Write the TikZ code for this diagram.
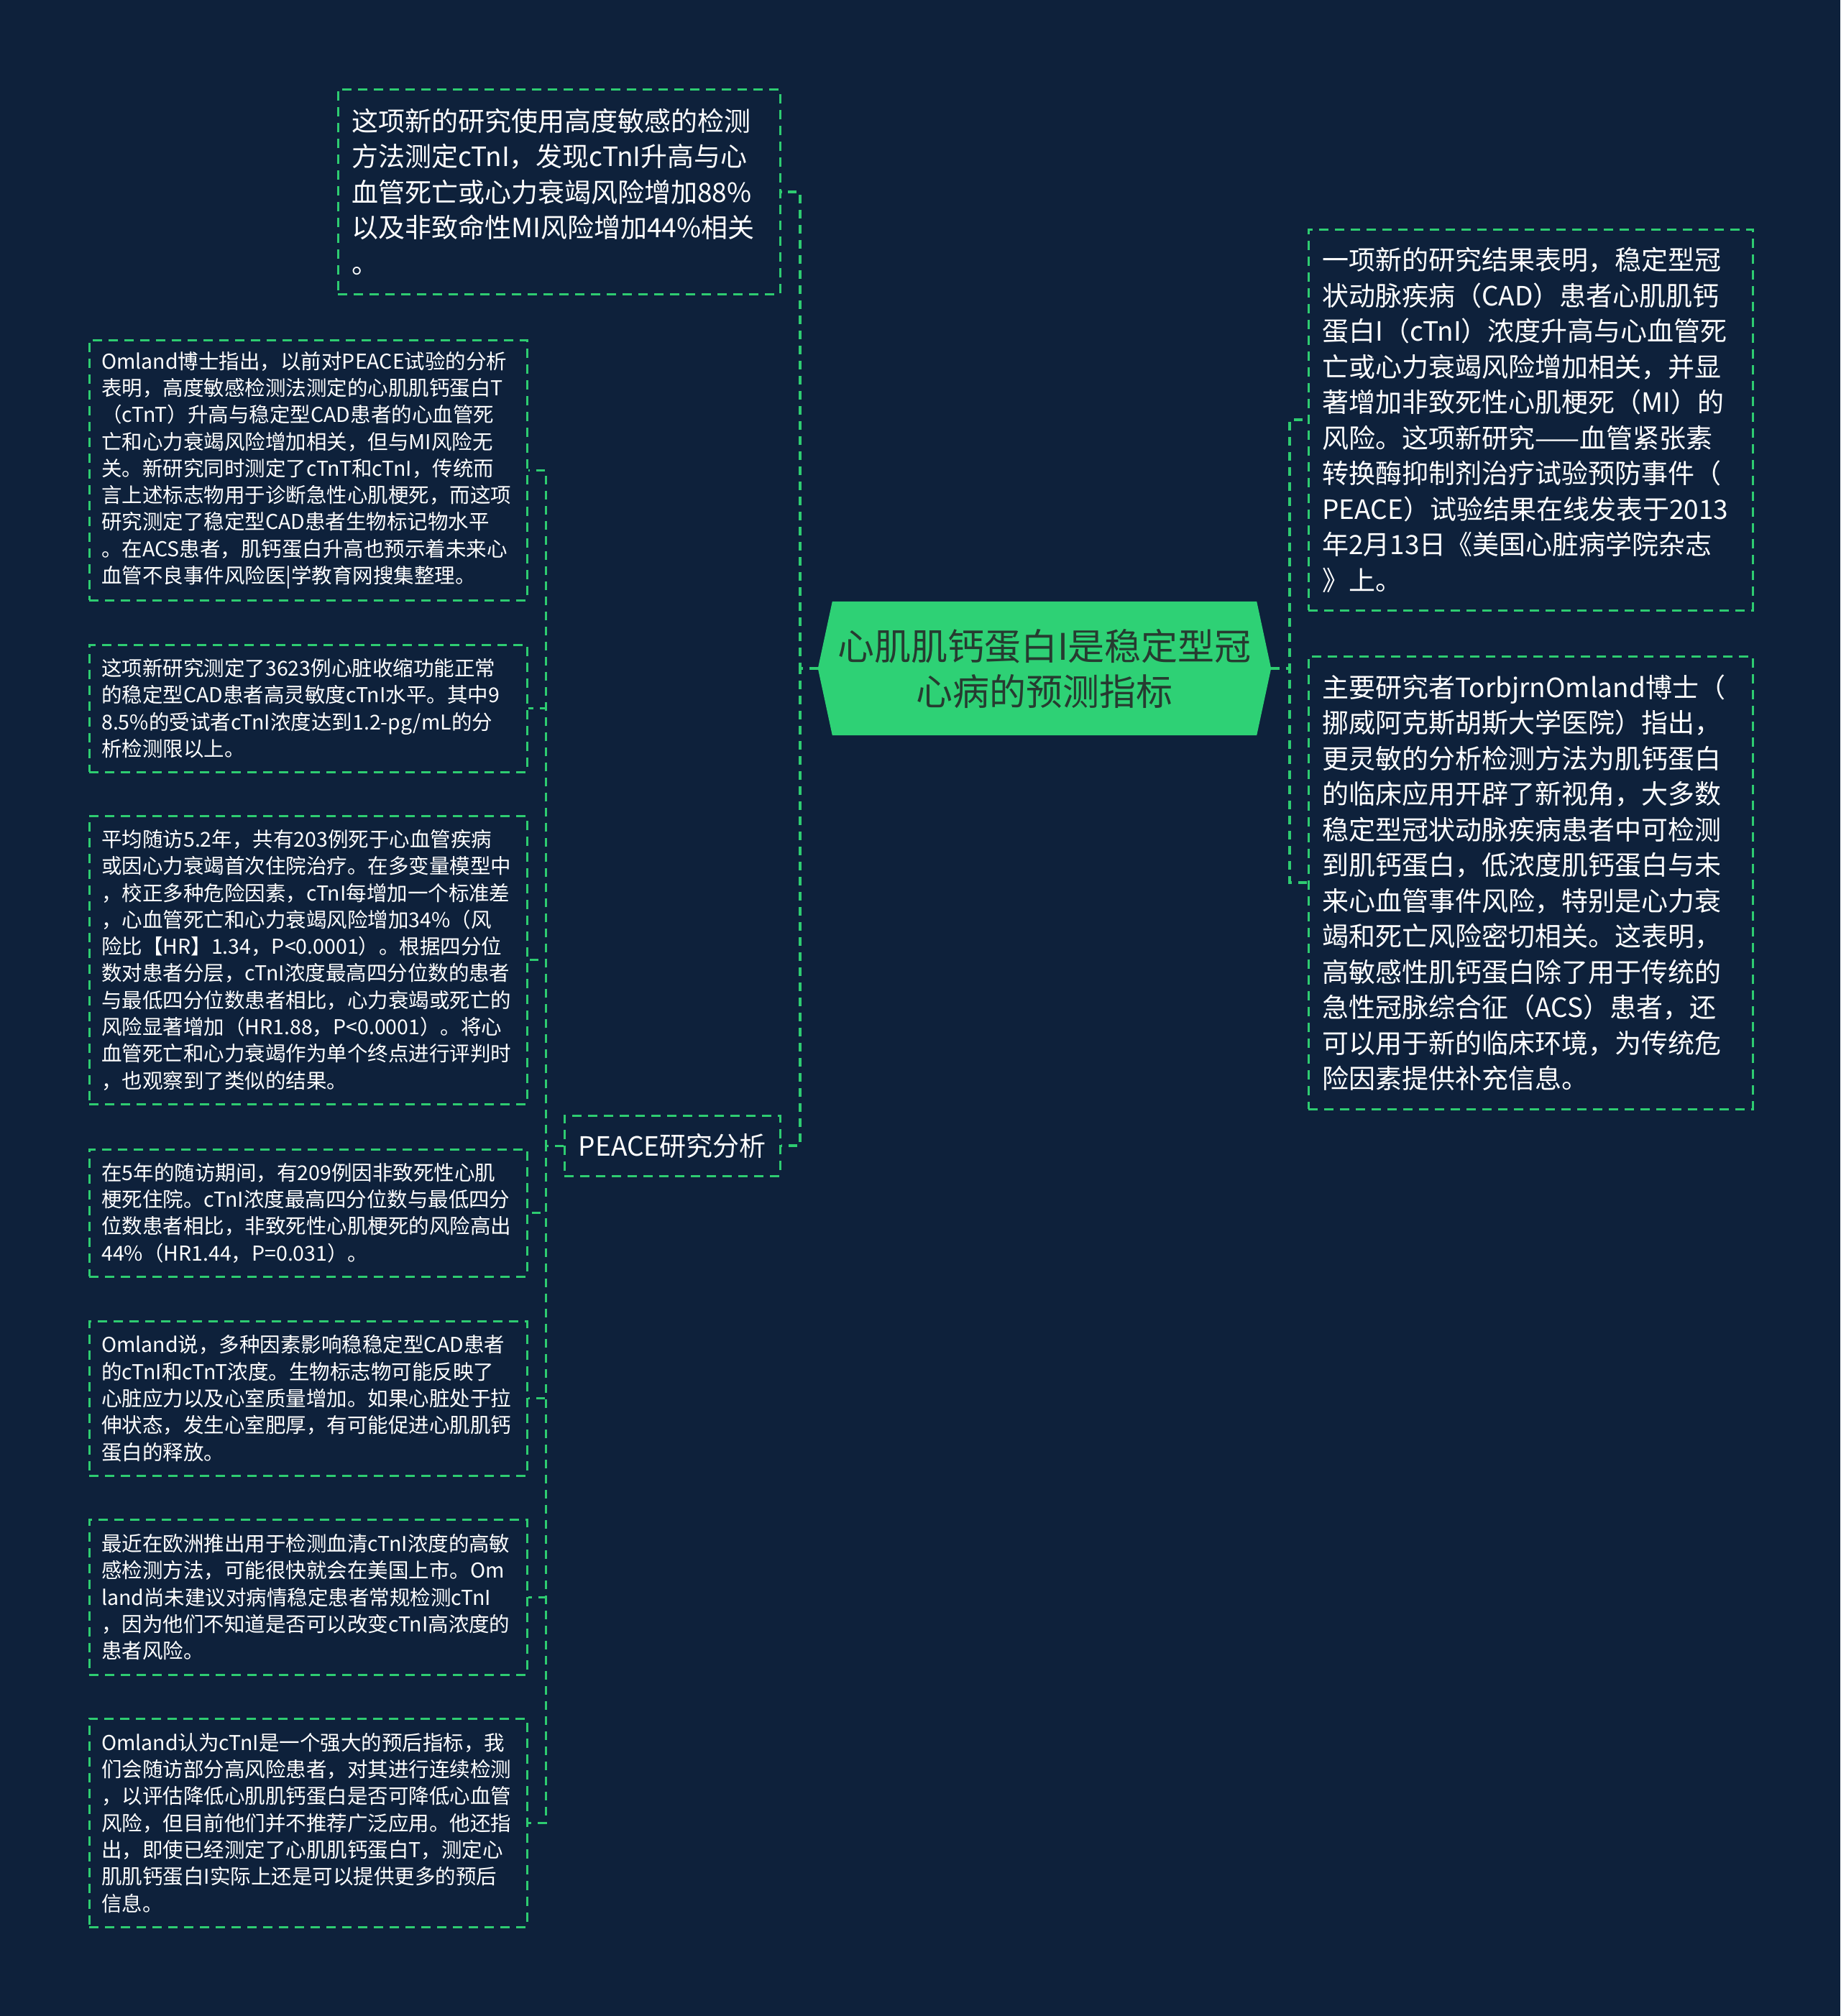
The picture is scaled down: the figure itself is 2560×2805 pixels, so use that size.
\documentclass[tikz,border=0pt]{standalone}
\usepackage{fontspec}
\setmainfont{Noto Sans CJK SC}
\usetikzlibrary{backgrounds}
\definecolor{bgc}{HTML}{0E213B}
\definecolor{lineg}{HTML}{2ECC71}
\definecolor{rootfill}{HTML}{2ED175}
\definecolor{roottext}{HTML}{263B30}
\tikzset{
  leaf/.style={draw=lineg, line width=2.5pt, dash pattern=on 13pt off 9pt,
    text=white, align=left, inner xsep=0pt, inner ysep=0pt, anchor=north west},
  smalltxt/.style={font=\fontsize{28.5}{37.3}\selectfont, text width=575pt, minimum width=609pt},
  bigtxt/.style={font=\fontsize{37}{49.5}\selectfont},
  rootnode/.style={minimum width=630pt, minimum height=186pt, inner sep=0pt,
    align=center, text=roottext, font=\fontsize{51}{63}\selectfont},
  midnode/.style={draw=lineg, line width=2.5pt, dash pattern=on 13pt off 9pt,
    text=white, font=\fontsize{37}{44}\selectfont, minimum width=300pt,
    minimum height=84pt, inner sep=0pt, anchor=north west},
  mainconn/.style={draw=lineg, line width=4pt, dash pattern=on 12pt off 9pt},
  subconn/.style={draw=lineg, line width=3pt, dash pattern=on 12pt off 9pt},
}
\begin{document}
\begin{tikzpicture}[x=1pt, y=-1pt]
\useasboundingbox (0,0) rectangle (2560,2805);
\begin{pgfonlayer}{background}
\fill[bgc] (0,0) rectangle (2560,2805);
\end{pgfonlayer}

% root
\node[rootnode] (root) at (1453,930) {心肌肌钙蛋白I是稳定型冠\\心病的预测指标};
\begin{pgfonlayer}{background}
\fill[rootfill] (root.west) -- ([xshift=20pt]root.north west) -- ([xshift=-20pt]root.north east)
  -- (root.east) -- ([xshift=-20pt]root.south east) -- ([xshift=20pt]root.south west) -- cycle;
\end{pgfonlayer}

% top box
\node[leaf, bigtxt, text width=577pt, minimum width=615pt, minimum height=285pt] (top) at (469,123) {%
这项新的研究使用高度敏感的检测\\
方法测定cTnI，发现cTnI升高与心\\
血管死亡或心力衰竭风险增加88\%\\
以及非致命性MI风险增加44\%相关\\
。};

% right boxes
\node[leaf, bigtxt, text width=580pt, minimum width=618pt, minimum height=530pt] (ra) at (1819,318) {%
一项新的研究结果表明，稳定型冠\\
状动脉疾病（CAD）患者心肌肌钙\\
蛋白I（cTnI）浓度升高与心血管死\\
亡或心力衰竭风险增加相关，并显\\
著增加非致死性心肌梗死（MI）的\\
风险。这项新研究——血管紧张素\\
转换酶抑制剂治疗试验预防事件（\\
PEACE）试验结果在线发表于2013\\
年2月13日《美国心脏病学院杂志\\
》上。};

\node[leaf, bigtxt, text width=580pt, minimum width=618pt, minimum height=630pt] (rb) at (1819,912) {%
主要研究者TorbjrnOmland博士（\\
挪威阿克斯胡斯大学医院）指出，\\
更灵敏的分析检测方法为肌钙蛋白\\
的临床应用开辟了新视角，大多数\\
稳定型冠状动脉疾病患者中可检测\\
到肌钙蛋白，低浓度肌钙蛋白与未\\
来心血管事件风险，特别是心力衰\\
竭和死亡风险密切相关。这表明，\\
高敏感性肌钙蛋白除了用于传统的\\
急性冠脉综合征（ACS）患者，还\\
可以用于新的临床环境，为传统危\\
险因素提供补充信息。};

% PEACE
\node[midnode] (peace) at (784,1551) {PEACE研究分析};

% left boxes
\node[leaf, smalltxt, minimum height=362pt] (l1) at (123,472) {%
Omland博士指出，以前对PEACE试验的分析\\
表明，高度敏感检测法测定的心肌肌钙蛋白T\\
（cTnT）升高与稳定型CAD患者的心血管死\\
亡和心力衰竭风险增加相关，但与MI风险无\\
关。新研究同时测定了cTnT和cTnI，传统而\\
言上述标志物用于诊断急性心肌梗死，而这项\\
研究测定了稳定型CAD患者生物标记物水平\\
。在ACS患者，肌钙蛋白升高也预示着未来心\\
血管不良事件风险医|学教育网搜集整理。};

\node[leaf, smalltxt, minimum height=177pt] (l2) at (123,896) {%
这项新研究测定了3623例心脏收缩功能正常\\
的稳定型CAD患者高灵敏度cTnI水平。其中9\\
8.5\%的受试者cTnI浓度达到1.2-pg/mL的分\\
析检测限以上。};

\node[leaf, smalltxt, minimum height=401pt] (l3) at (123,1134) {%
平均随访5.2年，共有203例死于心血管疾病\\
或因心力衰竭首次住院治疗。在多变量模型中\\
，校正多种危险因素，cTnI每增加一个标准差\\
，心血管死亡和心力衰竭风险增加34\%（风\\
险比【HR】1.34，P<0.0001）。根据四分位\\
数对患者分层，cTnI浓度最高四分位数的患者\\
与最低四分位数患者相比，心力衰竭或死亡的\\
风险显著增加（HR1.88，P<0.0001）。将心\\
血管死亡和心力衰竭作为单个终点进行评判时\\
，也观察到了类似的结果。};

\node[leaf, smalltxt, minimum height=177pt] (l4) at (123,1598) {%
在5年的随访期间，有209例因非致死性心肌\\
梗死住院。cTnI浓度最高四分位数与最低四分\\
位数患者相比，非致死性心肌梗死的风险高出\\
44\%（HR1.44，P=0.031）。};

\node[leaf, smalltxt, minimum height=215pt] (l5) at (123,1837) {%
Omland说，多种因素影响稳稳定型CAD患者\\
的cTnI和cTnT浓度。生物标志物可能反映了\\
心脏应力以及心室质量增加。如果心脏处于拉\\
伸状态，发生心室肥厚，有可能促进心肌肌钙\\
蛋白的释放。};

\node[leaf, smalltxt, minimum height=216pt] (l6) at (123,2113) {%
最近在欧洲推出用于检测血清cTnI浓度的高敏\\
感检测方法，可能很快就会在美国上市。Om\\
land尚未建议对病情稳定患者常规检测cTnI\\
，因为他们不知道是否可以改变cTnI高浓度的\\
患者风险。};

\node[leaf, smalltxt, minimum height=290pt] (l7) at (123,2390) {%
Omland认为cTnI是一个强大的预后指标，我\\
们会随访部分高风险患者，对其进行连续检测\\
，以评估降低心肌肌钙蛋白是否可降低心血管\\
风险，但目前他们并不推荐广泛应用。他还指\\
出，即使已经测定了心肌肌钙蛋白T，测定心\\
肌肌钙蛋白I实际上还是可以提供更多的预后\\
信息。};

% connectors
\draw[mainconn] (root.west) -- ++(-25,0) |- (top.east);
\draw[mainconn] (root.west) -- ++(-25,0) |- (peace.east);
\draw[mainconn] (root.east) -- ++(26,0) |- (ra.west);
\draw[mainconn] (root.east) -- ++(26,0) |- (rb.west);
\foreach \n in {l1,l2,l3,l4,l5,l6,l7}{
  \draw[subconn] (peace.west) -- ++(-25,0) |- (\n.east);
}
\end{tikzpicture}
\end{document}
